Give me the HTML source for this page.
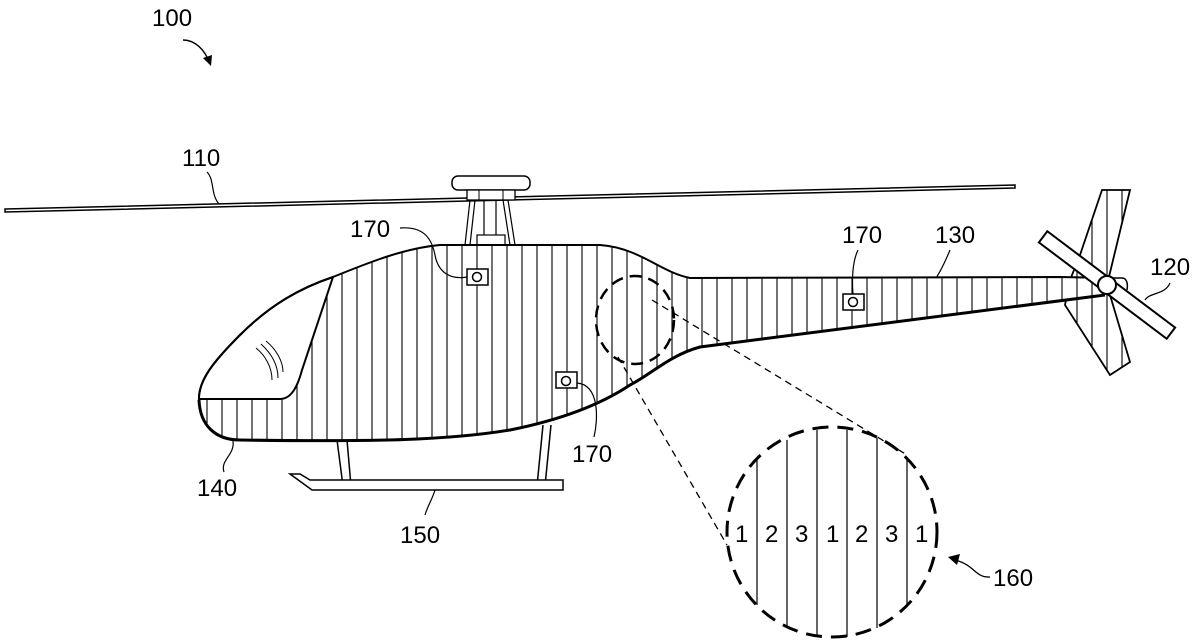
<!DOCTYPE html>
<html><head><style>
html,body{margin:0;padding:0;background:#fff;}
svg{display:block}
text{font-family:"Liberation Sans",Arial,sans-serif;font-size:24px;fill:#000}
</style></head><body>
<svg width="1200" height="644" viewBox="0 0 1200 644" xmlns="http://www.w3.org/2000/svg">
<defs>
<pattern id="h" width="15" height="20" patternUnits="userSpaceOnUse" x="5">
<line x1="7" y1="0" x2="7" y2="20" stroke="#000" stroke-width="1.1"/>
</pattern>
<clipPath id="bc">
<path d="M199,400 C198,380 215,360 240,335 C270,305 300,288 333,277 C370,262 405,248 440,245 L600,245 C640,248 660,272 690,278 L1060,277 L1110,278 L1105,295 L700,347 C670,355 650,375 630,385 C600,405 560,420 510,430 C450,440 380,442 240,440 C215,440 200,425 199,400 Z"/>
</clipPath>
</defs>
<text x="152" y="26">100</text>
<path d="M183,40 C195,40 205,50 209,62" fill="none" stroke="#000" stroke-width="1.5"/>
<path d="M203,58 L211,66 L212,55 Z" fill="#000"/>
<text x="182" y="166">110</text>
<path d="M207,172 C215,180 210,195 220,205" fill="none" stroke="#000" stroke-width="1.2"/>
<path d="M5,209 L1015,185 L1015,188 L5,212 Z" fill="#fff" stroke="#000" stroke-width="1.5"/>
<rect x="452" y="176" width="78" height="14" rx="6" fill="#fff" stroke="#000" stroke-width="1.5"/>
<rect x="467" y="190" width="48" height="10" fill="#fff" stroke="#000" stroke-width="1.3"/>
<line x1="479" y1="190" x2="479" y2="200" stroke="#000"/><line x1="503" y1="190" x2="503" y2="200" stroke="#000"/>
<path d="M470,200 L465,245 M475,200 L470,245 M508,200 L515,245 M503,200 L510,245 M484,200 L484,235 M496,200 L496,235" stroke="#000" stroke-width="1.2"/>
<rect x="477" y="235" width="28" height="10" fill="#fff" stroke="#000" stroke-width="1.2"/>
<path d="M337,440 L343,486 M347,440 L351,486 M543,425 L537,486 M551,425 L545,486" stroke="#000" stroke-width="1.5"/>
<path d="M290,474 L300,474 L310,480 L563,480 L563,490 L312,490 Z" fill="#fff" stroke="#000" stroke-width="1.5"/>
<path d="M1102,190 L1130,190 L1107,285 L1130,362 L1110,375 L1065,305 L1070,280 L1080,255 Z" fill="url(#h)" stroke="#000" stroke-width="1.8"/>
<path d="M199,400 C198,380 215,360 240,335 C270,305 300,288 333,277 C370,262 405,248 440,245 L600,245 C640,248 660,272 690,278 L1060,277 L1110,278 L1105,295 L700,347 C670,355 650,375 630,385 C600,405 560,420 510,430 C450,440 380,442 240,440 C215,440 200,425 199,400 Z" fill="#fff"/>
<g clip-path="url(#bc)"><rect x="190" y="240" width="930" height="210" fill="url(#h)"/></g>
<path d="M199,400 C198,380 215,360 240,335 C270,305 300,288 333,277 L302,370 C298,385 292,399 280,399 L199,399 Z" fill="#fff" stroke="#000" stroke-width="2"/>
<path d="M256,348 C266,356 272,368 272,380 M261,344 C272,354 278,366 278,378 M266,341 C277,350 283,362 283,372" fill="none" stroke="#000" stroke-width="1"/>
<path d="M199,400 C198,380 215,360 240,335 C270,305 300,288 333,277 C370,262 405,248 440,245 L600,245 C640,248 660,272 690,278 L1060,277 L1110,278" fill="none" stroke="#000" stroke-width="2"/>
<path d="M1105,295 L700,347 C670,355 650,375 630,385 C600,405 560,420 510,430 C450,440 380,442 240,440 C215,440 200,425 199,400" fill="none" stroke="#000" stroke-width="3"/>
<path d="M1112,278 L1122,278 C1127,278 1128,284 1127,290" fill="none" stroke="#000" stroke-width="1.5"/>
<g transform="translate(1107,285) rotate(37)">
<rect x="-80" y="-7" width="160" height="14" fill="#fff" stroke="#000" stroke-width="2"/>
</g>
<circle cx="1107" cy="285" r="9" fill="#fff" stroke="#000" stroke-width="2"/>
<g fill="#fff" stroke="#000" stroke-width="1.5">
<rect x="467" y="269" width="21" height="16"/><circle cx="477" cy="277" r="4.5"/>
<rect x="556" y="372" width="21" height="16"/><circle cx="566" cy="381" r="4.5"/>
<rect x="843" y="294" width="21" height="16"/><circle cx="853" cy="302" r="4.5"/>
</g>
<text x="350" y="237">170</text>
<path d="M400,228 C425,226 432,240 435,255 C438,272 450,280 467,277" fill="none" stroke="#000" stroke-width="1.2"/>
<text x="842" y="243">170</text>
<path d="M858,250 C852,262 852,282 853,294" fill="none" stroke="#000" stroke-width="1.2"/>
<text x="935" y="243">130</text>
<path d="M950,250 C945,262 940,272 936,278" fill="none" stroke="#000" stroke-width="1.2"/>
<text x="1150" y="275">120</text>
<path d="M1170,283 C1165,295 1150,292 1145,300" fill="none" stroke="#000" stroke-width="1.2"/>
<text x="572" y="462">170</text>
<path d="M577,383 C600,385 598,420 594,437" fill="none" stroke="#000" stroke-width="1.2"/>
<text x="197" y="496">140</text>
<path d="M233,441 C235,455 220,460 224,472" fill="none" stroke="#000" stroke-width="1.2"/>
<text x="400" y="543">150</text>
<path d="M435,490 C432,500 428,505 425,515" fill="none" stroke="#000" stroke-width="1.2"/>
<ellipse cx="635" cy="320" rx="39" ry="44" fill="none" stroke="#000" stroke-width="2.5" stroke-dasharray="12,7"/>
<path d="M652,300 L907,455 M618,357 L727,545" stroke="#000" stroke-width="1.3" stroke-dasharray="7,5"/>
<g stroke="#000" stroke-width="1.2">
<line x1="757" y1="458" x2="757" y2="605"/><line x1="787" y1="440" x2="787" y2="627"/>
<line x1="817" y1="430" x2="817" y2="637"/><line x1="847" y1="430" x2="847" y2="637"/>
<line x1="877" y1="438" x2="877" y2="628"/><line x1="907" y1="458" x2="907" y2="605"/>
</g>
<ellipse cx="832" cy="532" rx="105" ry="105" fill="none" stroke="#000" stroke-width="3" stroke-dasharray="16,9"/>
<g style="font-size:20px">
<text x="735" y="542">1</text><text x="765" y="542">2</text><text x="795" y="542">3</text>
<text x="826" y="542">1</text><text x="855" y="542">2</text><text x="885" y="542">3</text><text x="915" y="542">1</text>
</g>
<text x="993" y="586">160</text>
<path d="M990,577 C975,578 975,565 955,560" fill="none" stroke="#000" stroke-width="1.3"/>
<path d="M948,557 L960,554 L957,565 Z" fill="#000"/>
</svg>
</body></html>
